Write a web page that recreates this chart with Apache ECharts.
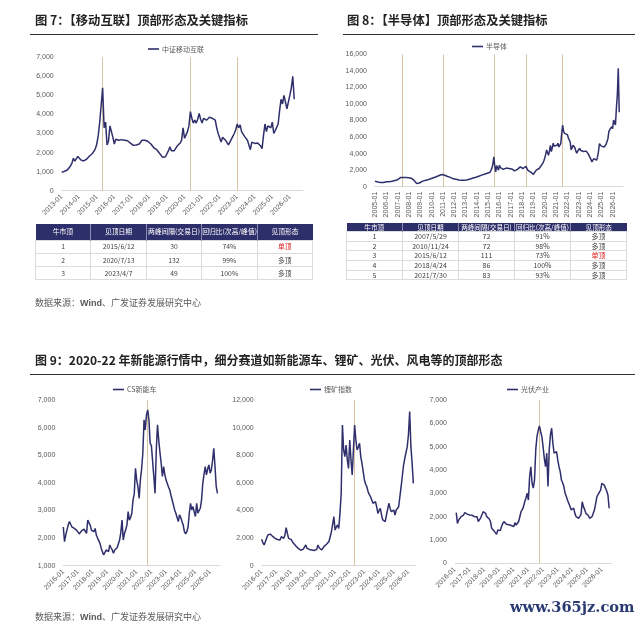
<!DOCTYPE html>
<html><head><meta charset="utf-8">
<script src="https://cdn.jsdelivr.net/npm/echarts@6/dist/echarts.min.js"></script>
<style>
html,body{margin:0;padding:0;background:#fff;overflow:hidden;}
#page{position:relative;width:640px;height:625px;overflow:hidden;font-family:"Noto Sans CJK SC","Liberation Sans",sans-serif;}
#chart{position:absolute;left:0;top:0;width:640px;height:625px;}
.title{position:absolute;font-size:12.3px;font-weight:bold;color:#222;line-height:16px;white-space:nowrap;}
.rule{position:absolute;height:0;border-top:1.3px solid #333;}
.src{position:absolute;font-size:9px;color:#595959;line-height:12px;white-space:nowrap;}
.src b{font-family:"Liberation Sans",sans-serif;}
table.tb{position:absolute;border-collapse:collapse;table-layout:fixed;font-family:"Noto Sans CJK SC","Liberation Sans",sans-serif;color:#404040;}
table.tb td,table.tb th{padding:0;text-align:center;line-height:1;white-space:nowrap;overflow:hidden;}
table.tb th{background:#2d2f6b;color:#fff;font-weight:normal;border-left:1px solid #8a8cb0;}
table.tb th:first-child{border-left:none;}
table.tb td{border:1px solid #dcdcdc;}
#t8 th{font-size:6.6px;}
.red{color:#e02222;}
#wm{position:absolute;left:510px;top:598px;font-family:"DejaVu Serif",serif;font-weight:bold;font-size:14.6px;color:#2a3a72;}
</style></head>
<body><div id="page">
<div id="chart"></div>
<div class="title" style="left:35px;top:12px;">图 7：【移动互联】顶部形态及关键指标</div>
<div class="rule" style="left:30px;top:34px;width:288px;"></div>
<div class="title" style="left:347px;top:12px;">图 8：【半导体】顶部形态及关键指标</div>
<div class="rule" style="left:343px;top:34px;width:292px;"></div>
<table class="tb" id="t7" style="left:35px;top:224px;width:278px;font-size:6.8px;"></table>
<table class="tb" id="t8" style="left:346px;top:223px;width:281px;font-size:7px;"></table>
<div class="src" style="left:35px;top:297px;">数据来源：<b>Wind</b>、广发证券发展研究中心</div>
<div class="title" style="left:35px;top:352px;font-size:12px;">图 9：2020-22 年新能源行情中，细分赛道如新能源车、锂矿、光伏、风电等的顶部形态</div>
<div class="rule" style="left:30px;top:374px;width:605px;"></div>
<div class="src" style="left:35px;top:611px;">数据来源：<b>Wind</b>、广发证券发展研究中心</div>
<div id="wm">www.365jz.com</div>
</div>
<script>
// ---------- data ----------
const mobileName = '中证移动互联';
const mobileStart = [2013, 1];
const mobileMonths = 166;
const mobileValues = [
960,1000,1020,1050,1100,1180,1300,1450,1700,1550,1650,1800,
1750,1620,1580,1560,1600,1650,1700,1820,1900,1950,2050,2200,
2450,2900,3600,4500,5400,3300,3600,2400,2600,3400,3500,2800,
2450,2700,2600,2650,2620,2680,2600,2650,2580,2620,2550,2500,
2400,2380,2450,2400,2350,2450,2550,2650,2750,2650,2550,2580,
2500,2450,2350,2250,2200,2150,2050,1950,1850,1750,1700,1780,
1800,2100,2300,2100,2000,2100,2200,2350,2450,2500,2650,3300,
2750,2850,3100,3400,4150,3800,3550,3700,3550,3750,4050,3750,
3550,3800,3900,3700,3750,3850,3900,3800,3850,3700,3300,3000,
2900,2550,2800,2750,2650,2550,2400,2550,2650,2850,3000,3200,
3500,3300,3450,3100,3000,2850,2900,2650,2400,2150,2550,2500,
2480,2550,2500,2450,2350,2200,2900,3500,3100,3400,3500,3300,
3600,3000,3150,3100,3500,4200,4800,4550,5000,4650,4300,4200,
5000,5400,6000,4800];
const mobileTops = ['2015-05','2020-05','2023-01'];

const semiName = '半导体';
const semiStart = [2005, 1];
const semiMonths = 264;
const semiValues = [
650,680,600,560,530,520,500,510,520,520,540,560,
600,590,580,600,610,620,650,680,700,740,780,800,
850,950,1000,1100,1150,1200,1100,1050,1090,1100,1120,1130,
1080,1050,1000,1000,900,780,690,600,400,350,380,450,
520,580,640,690,720,760,800,820,850,900,930,960,
1000,1050,1090,1120,1160,1200,1250,1300,1350,1400,1450,1480,
1500,1450,1380,1330,1280,1230,1200,1160,1130,1080,1000,950,
930,910,890,880,850,820,800,790,780,770,770,765,
780,800,830,870,900,930,980,1020,1060,1090,1100,1150,
1200,1250,1270,1290,1350,1400,1450,1480,1500,1530,1580,1620,
1680,1720,1750,1900,2250,2700,3600,2500,1800,2550,2300,2000,
2600,2300,2150,2200,2100,2200,2150,2250,2300,2300,2200,2250,
2150,2150,2050,1950,1900,2000,2050,2100,2150,2300,2400,2450,
2300,2200,2250,2400,2450,2250,2000,1950,1850,1750,1700,1600,
1500,1450,1700,2000,2100,2150,2200,2300,2500,2650,2850,3100,
3450,3900,4450,4100,3800,4300,5000,4250,4700,5250,4900,4700,
4850,5000,5250,4800,4600,5200,6450,7450,6700,6450,6600,6300,
6300,5900,5700,5400,4450,4700,5000,5050,4700,4300,4050,4300,
4500,4650,4400,4300,4200,4250,4400,4300,4300,4100,4000,3900,
3800,3300,3000,3200,3400,3300,3250,3200,3600,4250,5200,5000,
4900,5100,5050,4800,4900,5100,5050,5800,6650,6900,7100,7250,
7000,8050,7800,7450,9500,11100,14300,9000];
const semiTops = ['2007-06','2011-01','2015-07','2018-05','2021-08'];

const nevName = 'CS新能车';
const lithName = '锂矿指数';
const pvName = '光伏产业';
const newEnergyStart = [2016, 1];
const nevMonths = 129, lithMonths = 127, pvMonths = 129;
const nevValues = [
2400,1870,2110,2290,2470,2600,2500,2410,2380,2350,2320,2280,
2230,2150,2110,2270,2300,2320,2350,2170,2650,2550,2470,2290,
2250,2230,2350,2110,2000,1930,1810,1630,1500,1390,1450,1570,
1550,1510,1750,1650,1570,1450,1570,1600,1650,1690,1930,2200,
2650,1930,2170,2300,2470,2960,2650,2750,2900,3380,3600,4530,
4100,3860,3440,4100,4500,5070,6280,5920,6460,6640,6280,5430,
5350,5310,4230,3620,5190,6100,5550,5100,4710,4230,4590,4300,
4100,3980,3850,3740,3550,3380,3200,3020,2900,2840,2600,2840,
2750,2600,2470,2230,2150,2230,2410,2900,3260,3020,3140,2950,
2780,3260,2900,3000,3080,3380,3980,4300,4590,4290,4500,4650,
4350,4470,4800,5250,4590,3860,3620];
const lithValues = [
1910,1650,1500,1740,1980,2220,2250,2290,2150,2120,2100,1980,
1860,1900,1980,1860,2100,2050,1980,2220,2750,2340,1980,1950,
1910,1860,1620,1500,1420,1380,1250,1140,1120,1140,1200,1260,
1500,1260,1200,1180,1160,1140,1120,1100,1090,1180,1500,1300,
1180,1140,1260,1400,1500,1550,1620,1750,1860,2460,3000,3550,
2580,2800,2950,2700,3790,5240,10190,8380,7900,8740,7660,7050,
9100,7660,6570,8380,10190,9100,8380,8600,8860,7900,7410,6810,
6210,5900,5720,5360,5150,5000,4760,4520,4600,4640,4270,3790,
4000,4150,3670,3310,3250,3190,3670,4100,4520,4150,3910,3950,
4030,3670,4030,4150,4270,5000,5720,6500,7290,7780,7900,8620,
9500,11160,8620,7410,5960];
const pvValues = [
null,2170,1710,1860,1900,2000,2050,2070,2170,2140,2110,2090,
2070,2050,2060,2030,2000,2020,2000,1790,1860,1950,2000,2210,
2180,2140,2000,2030,1900,1790,1500,1430,1380,1310,1240,1430,
1420,1400,1570,1700,1790,1710,1670,1660,1650,1640,1620,1600,
1570,1740,1640,1700,1790,1860,2210,2300,2430,2640,2800,3000,
2710,3720,4140,3430,3220,3570,4860,5430,5700,5890,5650,5430,
5000,4500,4140,4720,3290,4860,5500,5790,5140,4720,4750,4790,
4430,4140,3930,3570,3450,3290,3000,2860,2700,2570,2430,2290,
2330,2360,2140,2000,1960,1930,1890,2100,2640,2430,2300,2140,
2210,2050,1930,1890,2000,2150,2290,2570,2860,2950,3000,3140,
3430,3500,3350,3400,3100,2930,2360];
const nevTops = ['2021-10'];
const lithTops = ['2022-05'];
const pvTops = ['2021-10'];

const tableHeader = ['牛市顶','见顶日期','两峰间隔(交易日)','回归比(次高/峰值)','见顶形态'];
const mobileTable = [
  ['1','2015/6/12','30','74%','单顶'],
  ['2','2020/7/13','132','99%','多顶'],
  ['3','2023/4/7','49','100%','多顶']];
const semiTable = [
  ['1','2007/5/29','72','91%','多顶'],
  ['2','2010/11/24','72','98%','多顶'],
  ['3','2015/6/12','111','73%','单顶'],
  ['4','2018/4/24','86','100%','多顶'],
  ['5','2021/7/30','83','93%','多顶']];

// ---------- tables ----------
function buildTable(id, rows, headH, rowH){
  let h = '<tr style="height:'+headH+'px">' + tableHeader.map(t=>'<th>'+t+'</th>').join('') + '</tr>';
  rows.forEach(r=>{
    h += '<tr style="height:'+rowH+'px">' + r.map((c,i)=>'<td'+(i===4&&c==='单顶'?' class="red"':'')+'>'+c+'</td>').join('') + '</tr>';
  });
  document.getElementById(id).innerHTML = h;
}
buildTable('t7', mobileTable, 16, 13.3);
buildTable('t8', semiTable, 8.5, 9.7);

// ---------- chart ----------
function monthLabels(start, n){
  const a=[];
  for(let i=0;i<n;i++){
    const k=start[1]-1+i;
    a.push((start[0]+Math.floor(k/12))+'-'+String(k%12+1).padStart(2,'0'));
  }
  return a;
}
const LINE = '#2e2f6b', TXT = '#595959', MARK = '#d8c3a5';
const grids = [
  {left:61.7, top:57.3, width:241.3, height:133.4},
  {left:375, top:54.3, width:248, height:132.4},
  {left:63.3, top:400, width:156.6, height:165.7},
  {left:261.7, top:400, width:154.1, height:165.7},
  {left:455, top:400, width:156.6, height:163.3}
];
const specs = [
  {name:mobileName, cats:monthLabels(mobileStart,mobileMonths), vals:mobileValues, tops:mobileTops, min:0, max:7000, step:1000, rot:45, legend:{left:148,top:45.5}},
  {name:semiName, cats:monthLabels(semiStart,semiMonths), vals:semiValues, tops:semiTops, min:0, max:16000, step:2000, rot:90, legend:{left:472,top:43}},
  {name:nevName, cats:monthLabels(newEnergyStart,nevMonths), vals:nevValues, tops:nevTops, min:1000, max:7000, step:1000, rot:45, legend:{left:113,top:386}},
  {name:lithName, cats:monthLabels(newEnergyStart,lithMonths), vals:lithValues, tops:lithTops, min:0, max:12000, step:2000, rot:45, legend:{left:310,top:386}},
  {name:pvName, cats:monthLabels(newEnergyStart,pvMonths), vals:pvValues, tops:pvTops, min:0, max:7000, step:1000, rot:45, legend:{left:507,top:386}}
];
const option = {
  animation:false,
  textStyle:{fontFamily:'"Liberation Sans","Noto Sans CJK SC",sans-serif'},
  grid: grids.map(g=>Object.assign({containLabel:false}, g)),
  legend: specs.map(s=>({data:[s.name], left:s.legend.left, top:s.legend.top, icon:'rect', itemWidth:11, itemHeight:1.6, padding:0,
    textStyle:{fontSize:7, color:TXT, fontFamily:'"Noto Sans CJK SC",sans-serif', padding:[0,0,0,-2]}})),
  xAxis: specs.map((s,i)=>({gridIndex:i, type:'category', boundaryGap:false, data:s.cats,
    axisTick:{show:false}, axisLine:{show:true, lineStyle:{color:'#d9d9d9', width:1}},
    axisLabel:{interval:(idx,v)=>v.endsWith('-01'), rotate:s.rot, fontSize:7, color:TXT, margin:5}, splitLine:{show:false}})),
  yAxis: specs.map((s,i)=>({gridIndex:i, type:'value', min:s.min, max:s.max, interval:s.step,
    axisLine:{show:false}, axisTick:{show:false}, splitLine:{show:false},
    axisLabel:{fontSize:7, color:TXT, margin:8, formatter:v=>v.toLocaleString('en-US')}})),
  series: specs.map((s,i)=>({name:s.name, type:'line', xAxisIndex:i, yAxisIndex:i, data:s.vals, symbol:'none',
    lineStyle:{color:LINE, width:1.5}, itemStyle:{color:LINE}, z:3,
    markLine:{silent:true, symbol:['none','none'], label:{show:false}, z:1,
      lineStyle:{color:MARK, type:'solid', width:1}, data:s.tops.map(t=>({xAxis:t}))}}))
};
const chart = echarts.init(document.getElementById('chart'), null, {renderer:'canvas'});
chart.setOption(option);
</script>
</body></html>
